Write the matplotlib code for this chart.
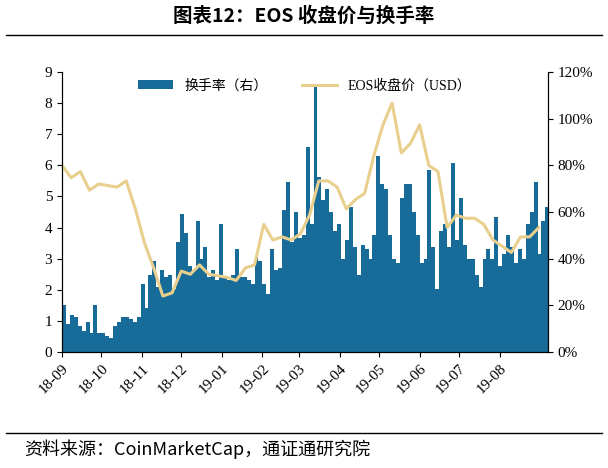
import matplotlib
matplotlib.use("Agg")
import matplotlib.pyplot as plt
import numpy as np
import pandas as pd

plt.rcParams['font.family'] = ['Liberation Serif', 'Noto Sans CJK SC']

price = [6.0,5.6,5.8,5.2,5.4,5.35,5.3,5.5,4.6,3.5,2.7,1.8,1.9,2.6,2.5,2.8,2.5,2.45,2.4,2.3,
         2.7,2.8,4.1,3.6,3.7,3.6,3.8,4.4,5.5,5.5,5.3,4.6,4.9,5.1,6.3,7.3,8.0,6.4,6.7,7.3,
         6.0,5.8,4.0,4.4,4.3,4.3,4.1,3.6,3.4,3.2,3.7,3.7,4.0]
turnover = [20,12,16,15,11,9,13,8,20,8,
            8,7,6,11,13,15,15,14,13,15,
            29,19,33,39,28,35,32,33,27,47,
            59,51,37,35,56,40,45,32,35,31,
            55,32,31,33,44,32,32,31,29,41,
            39,29,25,44,35,36,61,73,47,60,
            49,50,88,55,114,75,65,70,60,52,
            55,40,48,62,45,33,46,44,40,50,
            84,72,70,50,40,38,66,72,72,60,
            50,38,40,78,45,27,52,55,45,81,
            48,66,46,40,40,33,28,40,44,40,
            58,37,42,50,45,38,44,40,55,60,
            73,42,56,62]
tick_labels = ['18-09','18-10','18-11','18-12','19-01','19-02','19-03','19-04',
               '19-05','19-06','19-07','19-08']

start = pd.Timestamp('2018-09-01')
price_dates = start + pd.to_timedelta(np.arange(len(price)) * 7, unit='D')
bar_dates = start + pd.to_timedelta(np.arange(len(turnover)) * 3, unit='D')
tick_dates = pd.date_range('2018-09-01', periods=len(tick_labels), freq='MS')

fig = plt.figure(figsize=(6.08, 4.68), dpi=100)
ax = fig.add_axes([62/608, 1-352/468, 486/608, 280/468])
ax2 = ax.twinx()
bars = ax2.bar(bar_dates, turnover, width=3.0, color='#176b98', align='edge', label='换手率（右）')
ax2.set_ylim(0, 120)
ax2.set_yticks(range(0, 121, 20))
ax2.set_yticklabels([f'{v}%' for v in range(0, 121, 20)])
ln, = ax.plot(price_dates, price, color='#e9cf8d', lw=2.2, label='EOS收盘价（USD）')
ax.set_zorder(ax2.get_zorder() + 1)
ax.patch.set_visible(False)
ax.set_ylim(0, 9)
ax.set_yticks(range(10))
ax.set_xlim(pd.Timestamp('2018-09-01'), pd.Timestamp('2019-09-07'))
ax.set_xticks(tick_dates)
ax.set_xticklabels(tick_labels, rotation=45, ha='right', rotation_mode='anchor')
for a in (ax, ax2):
    a.spines['top'].set_visible(False)
    a.tick_params(labelsize=11, direction='out')
ax.legend([bars, ln], ['换手率（右）', 'EOS收盘价（USD）'], loc='upper center', ncol=2,
          frameon=False, fontsize=10, bbox_to_anchor=(0.5, 1.02), handlelength=2.5, columnspacing=2.5)

fig.text(0.5, 0.965, '图表12：EOS 收盘价与换手率', ha='center', va='center', fontsize=14,
         fontweight='bold', family=['Noto Sans CJK SC'])
fig.add_artist(plt.Line2D([0.01, 0.99], [0.925, 0.925], color='black', lw=1))
fig.add_artist(plt.Line2D([0.01, 0.99], [0.075, 0.075], color='black', lw=1))
fig.text(0.04, 0.04, '资料来源：CoinMarketCap，通证通研究院', ha='left', va='center',
         fontsize=13, style='italic', family=['Noto Sans CJK SC'])
fig.savefig('out.png', dpi=100)
